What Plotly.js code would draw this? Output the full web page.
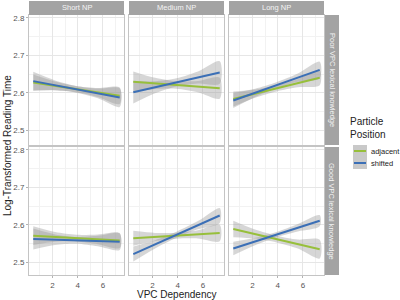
<!DOCTYPE html>
<html><head><meta charset="utf-8">
<script src="https://cdn.plot.ly/plotly-3.0.1.min.js"></script>
<style>html,body{margin:0;padding:0;background:#fff}#chart{width:400px;height:300px}</style>
</head><body><div id="chart"></div>
<script>
// Data
const npLengths = ["Short NP", "Medium NP", "Long NP"];
const knowledge = ["Poor VPC lexical knowledge", "Good VPC lexical knowledge"];
const positions = ["adjacent", "shifted"];
const xEnds = [0.47, 7.33];
const bandX = [0.47, 2.2, 3.9, 5.6, 7.33];
// fitted line endpoints [left, right], per row (Poor, Good) x panel (Short, Medium, Long)
const adjacentEnds = [
  [[2.627, 2.592], [2.629, 2.612], [2.583, 2.640]],
  [[2.571, 2.558], [2.564, 2.578], [2.589, 2.535]]
];
const shiftedEnds = [
  [[2.631, 2.587], [2.601, 2.654], [2.579, 2.661]],
  [[2.562, 2.555], [2.522, 2.625], [2.537, 2.611]]
];
// confidence band half-widths at bandX
const adjacentHW = [
  [[0.022,0.012,0.008,0.012,0.022],[0.028,0.015,0.010,0.015,0.028],[0.020,0.011,0.008,0.011,0.020]],
  [[0.025,0.013,0.009,0.013,0.020],[0.020,0.011,0.008,0.011,0.022],[0.022,0.012,0.009,0.012,0.025]]
];
const shiftedHW = [
  [[0.025,0.013,0.009,0.013,0.025],[0.030,0.016,0.011,0.016,0.030],[0.020,0.011,0.008,0.011,0.022]],
  [[0.028,0.014,0.009,0.014,0.022],[0.020,0.011,0.008,0.011,0.020],[0.018,0.010,0.007,0.010,0.015]]
];
const xTicks = [2, 4, 6];
const yTicks = [2.5, 2.6, 2.7, 2.8];

const colors = {adjacent: "#97bf3b", shifted: "#3b6fb6"};
const bandFill = "rgba(153,153,153,0.4)";

const W = 400, H = 300;
const colPx = [[29,124],[129,224],[229,324]];
const rowPx = [[15,145],[147,275]];
const yRanges = [[2.46, 2.808], [2.466, 2.808]];
const px2x = p => p / W, px2y = p => 1 - p / H;

const traces = [], lines = [];
const layout = {
  width: W, height: H, margin: {l:0,r:0,t:0,b:0},
  paper_bgcolor: "#fff", plot_bgcolor: "#fff", showlegend: false,
  font: {family: "Liberation Sans, Arial, sans-serif", color: "#333"},
  shapes: [], annotations: []
};

function lineAt(ends, x) {
  return ends[0] + (ends[1] - ends[0]) * (x - xEnds[0]) / (xEnds[1] - xEnds[0]);
}

for (let r = 0; r < 2; r++) {
  for (let c = 0; c < 3; c++) {
    const i = r * 3 + c + 1;
    const xa = "x" + (i === 1 ? "" : i), ya = "y" + (i === 1 ? "" : i);
    const xk = "xaxis" + (i === 1 ? "" : i), yk = "yaxis" + (i === 1 ? "" : i);
    layout[xk] = {
      domain: [px2x(colPx[c][0]), px2x(colPx[c][1])], anchor: ya,
      range: [0.13, 7.67], tickvals: xTicks, ticktext: xTicks.map(String),
      showticklabels: r === 1, ticks: r === 1 ? "outside" : "", ticklen: 2, tickcolor: "#b3b3b3",
      tickfont: {size: 8, color: "#555555"},
      showgrid: true, gridcolor: "#e6e6e6", gridwidth: 1,
      minor: {dtick: 1, tick0: 1, showgrid: true, gridcolor: "#f2f2f2", gridwidth: 1, ticks: ""},
      zeroline: false, showline: true, mirror: true, linecolor: "#c4c4c4", linewidth: 1,
      fixedrange: true
    };
    layout[yk] = {
      domain: [px2y(rowPx[r][1]), px2y(rowPx[r][0])], anchor: xa,
      range: yRanges[r], tickvals: yTicks, ticktext: yTicks.map(v => v.toFixed(1)),
      showticklabels: c === 0, ticks: c === 0 ? "outside" : "", ticklen: 2, tickcolor: "#b3b3b3",
      tickfont: {size: 8, color: "#555555"},
      showgrid: true, gridcolor: "#e6e6e6", gridwidth: 1,
      minor: {dtick: 0.05, tick0: 2.45, showgrid: true, gridcolor: "#f2f2f2", gridwidth: 1, ticks: ""},
      zeroline: false, showline: true, mirror: true, linecolor: "#c4c4c4", linewidth: 1,
      fixedrange: true
    };
    const sets = [["adjacent", adjacentEnds[r][c], adjacentHW[r][c]], ["shifted", shiftedEnds[r][c], shiftedHW[r][c]]];
    sets.forEach(([name, ends, hw]) => {
      const up = bandX.map((x, k) => lineAt(ends, x) + hw[k]);
      const lo = bandX.map((x, k) => lineAt(ends, x) - hw[k]);
      traces.push({
        x: bandX.concat(bandX.slice().reverse()),
        y: up.concat(lo.slice().reverse()),
        xaxis: xa, yaxis: ya, type: "scatter", mode: "lines", line: {width: 0, shape: "spline", smoothing: 0.8},
        fill: "toself", fillcolor: bandFill, hoverinfo: "skip"
      });
      lines.push({
        x: xEnds, y: ends, xaxis: xa, yaxis: ya, type: "scatter", mode: "lines",
        line: {color: colors[name], width: 2}, name: name, hoverinfo: "skip"
      });
    });
  }
}

const stripColor = "#a3a3a3";
// top strips
npLengths.forEach((t, c) => {
  layout.shapes.push({type: "rect", xref: "paper", yref: "paper", x0: px2x(colPx[c][0]), x1: px2x(colPx[c][1]),
    y0: px2y(15), y1: px2y(1), fillcolor: stripColor, line: {width: 0}});
  layout.annotations.push({xref: "paper", yref: "paper", x: px2x((colPx[c][0] + colPx[c][1]) / 2), y: px2y(8),
    text: t, showarrow: false, font: {size: 7.5, color: "#f4f4f4"}, xanchor: "center", yanchor: "middle"});
});
// right strips
knowledge.forEach((t, r) => {
  layout.shapes.push({type: "rect", xref: "paper", yref: "paper", x0: px2x(325), x1: px2x(339),
    y0: px2y(rowPx[r][1]), y1: px2y(rowPx[r][0]), fillcolor: stripColor, line: {width: 0}});
  layout.annotations.push({xref: "paper", yref: "paper", x: px2x(332), y: px2y((rowPx[r][0] + rowPx[r][1]) / 2),
    text: t, showarrow: false, textangle: 90, font: {size: 7.5, color: "#f4f4f4"}, xanchor: "center", yanchor: "middle"});
});
// axis titles
layout.annotations.push({xref: "paper", yref: "paper", x: px2x(176.5), y: px2y(294), text: "VPC Dependency",
  showarrow: false, font: {size: 10, color: "#222"}, xanchor: "center", yanchor: "middle"});
layout.annotations.push({xref: "paper", yref: "paper", x: px2x(7), y: px2y(146), text: "Log-Transformed Reading Time",
  showarrow: false, textangle: -90, font: {size: 10, color: "#222"}, xanchor: "center", yanchor: "middle"});
// legend
layout.annotations.push({xref: "paper", yref: "paper", x: px2x(348), y: px2y(128), text: "Particle<br>Position",
  showarrow: false, align: "left", font: {size: 10, color: "#222"}, xanchor: "left", yanchor: "middle"});
positions.forEach((p, k) => {
  const yc = 151 + k * 12;
  layout.shapes.push({type: "rect", xref: "paper", yref: "paper", x0: px2x(353), x1: px2x(367),
    y0: px2y(yc + 6), y1: px2y(yc - 6), fillcolor: "#c9c9c9", line: {width: 0}});
  layout.shapes.push({type: "line", xref: "paper", yref: "paper", x0: px2x(354), x1: px2x(366),
    y0: px2y(yc), y1: px2y(yc), line: {color: colors[p], width: 2}});
  layout.annotations.push({xref: "paper", yref: "paper", x: px2x(369), y: px2y(yc), text: p,
    showarrow: false, font: {size: 7.5, color: "#222"}, xanchor: "left", yanchor: "middle"});
});

Plotly.newPlot("chart", traces.concat(lines), layout, {staticPlot: true, displayModeBar: false});
</script></body></html>
